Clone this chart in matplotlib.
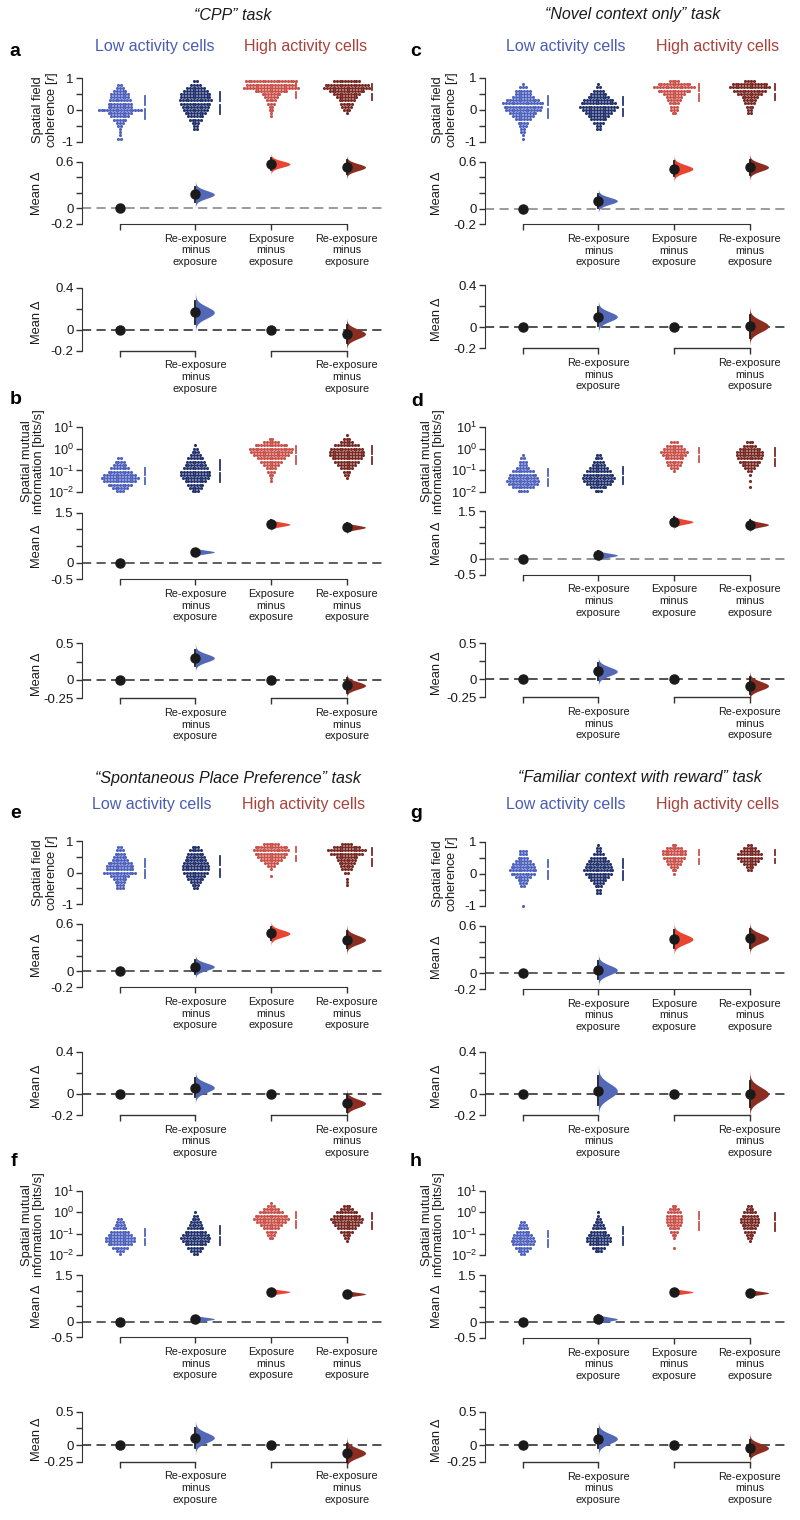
import numpy as np
import matplotlib
matplotlib.use("Agg")
import matplotlib.pyplot as plt
from matplotlib.ticker import NullLocator, LogFormatterSciNotation

plt.rcParams['font.family'] = ['Liberation Sans', 'DejaVu Sans']
plt.rcParams['mathtext.fontset'] = 'custom'
plt.rcParams['mathtext.rm'] = 'Liberation Sans'
plt.rcParams['mathtext.it'] = 'Liberation Sans:italic'
plt.rcParams['mathtext.bf'] = 'Liberation Sans:bold'
plt.rcParams['axes.unicode_minus'] = False

# ---------------- data ----------------
tasks = ["\u201cCPP\u201d task", "\u201cNovel context only\u201d task",
         "\u201cSpontaneous Place Preference\u201d task",
         "\u201cFamiliar context with reward\u201d task"]
delta_labels = ["", "Re-exposure\nminus\nexposure", "Exposure\nminus\nexposure",
                "Re-exposure\nminus\nexposure"]
paired_labels = ["", "Re-exposure\nminus\nexposure", "", "Re-exposure\nminus\nexposure"]

# swarm histograms per group: (first bin, counts); coherence bins step 0.1, log10 MI bins step 0.15
coh_a = [(-0.9, [2, 1, 1, 1, 2, 3, 5, 7, 9, 16, 9, 9, 8, 7, 7, 5, 3, 2]),
         (-0.6, [2, 2, 3, 5, 6, 8, 9, 10, 11, 12, 11, 11, 9, 7, 4, 2]),
         (-0.2, [1, 1, 2, 2, 3, 4, 5, 7, 12, 20, 18, 19]),
         (-0.1, [1, 3, 4, 5, 6, 8, 10, 13, 17, 16, 10])]
coh_c = [(-0.9, [1, 1, 2, 2, 3, 4, 6, 8, 10, 13, 14, 15, 12, 8, 6, 6, 3, 1]),
         (-0.6, [2, 2, 4, 6, 8, 10, 12, 14, 13, 11, 8, 6, 4, 2, 1]),
         (-0.1, [2, 3, 3, 4, 5, 6, 8, 12, 15, 12, 4]),
         (-0.1, [2, 2, 3, 4, 5, 6, 9, 12, 15, 13, 4])]
coh_e = [(-0.5, [3, 3, 4, 5, 7, 12, 10, 10, 9, 6, 5, 4, 3, 2]),
         (-0.5, [2, 3, 4, 6, 7, 9, 10, 10, 9, 8, 7, 6, 5, 3]),
         (-0.1, [1, 0, 1, 3, 5, 8, 10, 12, 13, 12, 6]),
         (-0.4, [1, 1, 1, 0, 2, 4, 5, 6, 7, 8, 12, 14, 10, 4])]
coh_g = [(-1.0, [1, 0, 0, 0, 0, 0, 2, 3, 4, 6, 9, 10, 9, 8, 6, 4, 3, 3]),
         (-0.6, [2, 2, 3, 4, 6, 8, 10, 11, 10, 9, 8, 6, 4, 2, 2, 1]),
         (0.0, [1, 2, 3, 5, 6, 8, 9, 9, 6, 2]),
         (0.1, [2, 3, 5, 7, 9, 9, 7, 5, 2])]
mi_b = [(-1.95, [3, 6, 9, 12, 14, 12, 9, 7, 5, 4, 2]),
        (-1.95, [3, 5, 6, 8, 10, 11, 11, 9, 8, 7, 6, 4, 3, 2, 1]),
        (-1.5, [1, 1, 2, 3, 4, 6, 8, 10, 13, 15, 16, 12, 6, 2]),
        (-1.35, [1, 2, 3, 5, 7, 9, 11, 13, 13, 12, 9, 5, 3, 1])]
mi_d = [(-1.95, [4, 8, 11, 12, 11, 10, 8, 5, 3, 3, 2, 1]),
        (-1.95, [3, 6, 9, 11, 12, 11, 9, 7, 5, 4, 3, 2]),
        (-1.05, [1, 3, 5, 6, 7, 9, 10, 8, 6, 3]),
        (-1.8, [1, 0, 1, 0, 1, 2, 4, 6, 8, 9, 10, 10, 8, 5, 3])]
mi_f = [(-1.95, [1, 3, 6, 9, 11, 11, 9, 7, 5, 4, 3, 2]),
        (-1.95, [2, 4, 6, 8, 10, 11, 10, 8, 6, 5, 4, 3, 2, 1]),
        (-1.2, [2, 3, 4, 6, 8, 11, 13, 12, 9, 6, 3, 1]),
        (-1.35, [1, 2, 3, 5, 7, 9, 11, 12, 10, 8, 5, 3])]
mi_h = [(-1.95, [2, 4, 6, 8, 9, 8, 7, 5, 4, 3, 2]),
        (-1.8, [3, 5, 7, 9, 9, 8, 6, 5, 4, 3, 2, 1, 1]),
        (-1.65, [1, 0, 0, 1, 2, 3, 4, 5, 6, 6, 6, 5, 4, 2]),
        (-1.35, [1, 2, 3, 4, 5, 6, 7, 7, 6, 5, 3, 2])]

# bootstrap mean differences (mean, sd): shared control -> groups 1..3, paired -> groups 1 and 3
shared_a = [(0.18, 0.05), (0.57, 0.04), (0.53, 0.045)]
paired_a = [(0.165, 0.055), (-0.04, 0.045)]
shared_b = [(0.32, 0.05), (1.15, 0.06), (1.06, 0.06)]
paired_b = [(0.30, 0.055), (-0.075, 0.05)]
shared_c = [(0.10, 0.045), (0.51, 0.05), (0.53, 0.05)]
paired_c = [(0.10, 0.045), (0.01, 0.055)]
shared_d = [(0.11, 0.06), (1.16, 0.07), (1.07, 0.07)]
paired_d = [(0.11, 0.06), (-0.09, 0.06)]
shared_e = [(0.06, 0.045), (0.48, 0.045), (0.40, 0.055)]
paired_e = [(0.06, 0.045), (-0.09, 0.04)]
shared_f = [(0.09, 0.05), (0.96, 0.05), (0.89, 0.05)]
paired_f = [(0.11, 0.075), (-0.12, 0.07)]
shared_g = [(0.04, 0.06), (0.43, 0.06), (0.44, 0.06)]
paired_g = [(0.03, 0.07), (0.0, 0.065)]
shared_h = [(0.10, 0.06), (0.96, 0.05), (0.93, 0.05)]
paired_h = [(0.10, 0.075), (-0.04, 0.065)]

# ---------------- style ----------------
dot_colors = ['#4f62bd', '#25346f', '#c9524b', '#7a2a25']
vio_colors = [None, '#5468b8', '#ea4433', '#8c2d22']
low_col, high_col = '#4a5db3', '#a8423a'
ink = '#1a1a1a'
W, H = 800, 1520
col_left = [82, 485]
AXW = 302.4
DX = 0.037     # swarm spacing (data units)
VW = 0.25      # violin width

fig = plt.figure(figsize=(8, 15.2), dpi=100)


def add_ax(col, top, bot):
    ax = fig.add_axes([col_left[col] / W, 1 - bot / H, AXW / W, (bot - top) / H])
    ax.set_xlim(-0.5, 3.5)
    for s in ['top', 'right']:
        ax.spines[s].set_visible(False)
    ax.spines['left'].set_color('#333333')
    ax.tick_params(axis='both', direction='out', length=4, width=1, color='#333333',
                   labelsize=9.5, labelcolor=ink, pad=2)
    ax.patch.set_alpha(0)
    return ax


def ftext(x, y, s, **kw):
    fig.text(x / W, 1 - y / H, s, **kw)


def swarm(ax, data, log):
    step = 0.15 if log else 0.1
    for g, (start, counts) in enumerate(data):
        xs, vs = [], []
        for i, n in enumerate(counts):
            v = start + i * step
            for k in range(n):
                xs.append(g + (k - (n - 1) / 2) * DX)
                vs.append(v)
        vs = np.array(vs)
        ys = 10 ** vs if log else vs
        ax.scatter(xs, ys, s=5, color=dot_colors[g], lw=0, clip_on=False)
        m, sd = vs.mean(), vs.std()
        gap = 0.07 if log else 0.06
        bx = g + 0.33
        for a, b in [(m - sd, m - gap), (m + gap, m + sd)]:
            ya, yb = (10 ** a, 10 ** b) if log else (a, b)
            ax.plot([bx, bx], [ya, yb], color=dot_colors[g], lw=1.3, clip_on=False)


def violin(ax, x, m, sd, color):
    y = np.linspace(m - 3.5 * sd, m + 3.5 * sd, 90)
    w = VW * np.exp(-0.5 * ((y - m) / sd) ** 2)
    ax.fill_betweenx(y, x, x + w, color=color, lw=0, clip_on=False, zorder=2)
    ax.plot([x, x], [m - 1.96 * sd, m + 1.96 * sd], color=ink, lw=1.3, clip_on=False, zorder=3)
    ax.plot(x, m, 'o', color=ink, ms=6.5, clip_on=False, zorder=4)


def ref_dot(ax, x):
    ax.plot(x, 0, 'o', color=ink, ms=6.5, clip_on=False, zorder=4)


panels = [
    # letter, col, swarm data, log?, shared, paired, geometry (px), zero-line colour
    ('a', 0, coh_a, False, shared_a, paired_a, (78.3, 141.7, 161.7, 224, 287.7, 350.7), '#808080'),
    ('b', 0, mi_b, True, shared_b, paired_b, (426.7, 492.3, 512.7, 579.3, 643.3, 698.3), '#333333'),
    ('c', 1, coh_c, False, shared_c, paired_c, (77.7, 141.7, 161.7, 224.3, 285, 348.3), '#808080'),
    ('d', 1, mi_d, True, shared_d, paired_d, (427.3, 491.7, 511, 574.6, 643.3, 697.3), '#777777'),
    ('e', 0, coh_e, False, shared_e, paired_e, (841, 904.3, 924, 987.3, 1051.7, 1115), '#333333'),
    ('f', 0, mi_f, True, shared_f, paired_f, (1191, 1255, 1275, 1337.3, 1411.7, 1461.7), '#333333'),
    ('g', 1, coh_g, False, shared_g, paired_g, (841.7, 905.7, 925.7, 989, 1052, 1115), '#333333'),
    ('h', 1, mi_h, True, shared_h, paired_h, (1191, 1255, 1275, 1338, 1412, 1462), '#333333'),
]
letter_pos = {'a': (15, 52), 'b': (16, 400), 'c': (416, 52), 'd': (417, 401),
              'e': (16, 813), 'f': (14, 1162), 'g': (416, 813), 'h': (416, 1162)}

for letter, col, sdata, log, shared, paired, geo, zc in panels:
    off = 400 * col
    st, sb, dt, db, pt, pb = geo

    # swarm row
    ax1 = add_ax(col, st, sb)
    ax1.spines['bottom'].set_visible(False)
    ax1.set_xticks([])
    if log:
        ax1.set_yscale('log')
        ax1.set_ylim(1e-2, 1e1)
        ax1.set_yticks([1e-2, 1e-1, 1e0, 1e1])
        ax1.yaxis.set_major_formatter(LogFormatterSciNotation())
        ax1.yaxis.set_minor_locator(NullLocator())
        ax1.tick_params(axis='y', labelsize=9.2, pad=1.5)
        ftext(off + 33, (st + sb) / 2 + 2, "Spatial mutual\ninformation [bits/s]", rotation=90,
              ha='center', va='center', fontsize=9.3, color=ink, linespacing=0.95)
    else:
        ax1.set_ylim(-1, 1)
        ax1.set_yticks([-1, -0.5, 0, 0.5, 1], ['-1', '', '0', '', '1'])
        ftext(off + 46, (st + sb) / 2, "Spatial field\ncoherence [$r$]", rotation=90,
              ha='center', va='center', fontsize=9.3, color=ink, linespacing=1.05)
    swarm(ax1, sdata, log)

    # shared-control mean difference row
    ax2 = add_ax(col, dt, db)
    if log:
        ax2.set_ylim(-0.5, 1.5)
        ax2.set_yticks([-0.5, 0, 0.5, 1, 1.5], ['-0.5', '0', '', '', '1.5'])
    else:
        ax2.set_ylim(-0.2, 0.6)
        ax2.set_yticks([-0.2, 0, 0.2, 0.4, 0.6], ['-0.2', '0', '', '', '0.6'])
    ax2.axhline(0, color=zc, lw=1.1, ls=(0, (6, 3.5)), zorder=0)
    ref_dot(ax2, 0)
    for g, (m, sd) in enumerate(shared, start=1):
        violin(ax2, g, m, sd, vio_colors[g])
    ax2.spines['bottom'].set_bounds(0, 3)
    ax2.spines['bottom'].set_color('#333333')
    ax2.set_xticks([0, 1, 2, 3], delta_labels, fontsize=7.8)
    ax2.tick_params(axis='x', pad=3)
    ftext(off + 37, (dt + db) / 2, "Mean \u0394", rotation=90, ha='center', va='center',
          fontsize=9.3, color=ink)

    # paired mean difference row
    ax3 = add_ax(col, pt, pb)
    if log:
        ax3.set_ylim(-0.25, 0.5)
        ax3.set_yticks([-0.25, 0, 0.25, 0.5], ['-0.25', '0', '', '0.5'])
    else:
        ax3.set_ylim(-0.2, 0.4)
        ax3.set_yticks([-0.2, 0, 0.2, 0.4], ['-0.2', '0', '', '0.4'])
    ax3.axhline(0, color='#222222', lw=1.1, ls=(0, (6, 3.5)), zorder=0)
    ref_dot(ax3, 0)
    ref_dot(ax3, 2)
    violin(ax3, 1, paired[0][0], paired[0][1], vio_colors[1])
    violin(ax3, 3, paired[1][0], paired[1][1], vio_colors[3])
    ax3.spines['bottom'].set_visible(False)
    for a, b in [(0, 1), (2, 3)]:
        ax3.plot([a, b], [0, 0], color='#333333', lw=1, transform=ax3.get_xaxis_transform(),
                 clip_on=False)
    ax3.set_xticks([0, 1, 2, 3], paired_labels, fontsize=7.8)
    ax3.tick_params(axis='x', pad=3)
    ftext(off + 37, (pt + pb) / 2 + 3, "Mean \u0394", rotation=90, ha='center', va='center',
          fontsize=9.3, color=ink)

    lx, ly = letter_pos[letter]
    ftext(lx, ly, letter, fontsize=14, fontweight='bold', ha='center', va='center', color='black')

# titles and group headers
ftext(233, 15, tasks[0], fontsize=11.5, style='italic', ha='center', va='center', color=ink)
ftext(633, 15, tasks[1], fontsize=11.5, style='italic', ha='center', va='center', color=ink)
ftext(228, 778, tasks[2], fontsize=11.5, style='italic', ha='center', va='center', color=ink)
ftext(640, 778, tasks[3], fontsize=11.5, style='italic', ha='center', va='center', color=ink)
for (lx, hx, y) in [(155, 306, 47), (566, 718, 47), (152, 304, 805), (566, 718, 805)]:
    ftext(lx, y, "Low activity cells", fontsize=11.5, ha='center', va='center', color=low_col)
    ftext(hx, y, "High activity cells", fontsize=11.5, ha='center', va='center', color=high_col)

fig.savefig("out.png", dpi=100)
